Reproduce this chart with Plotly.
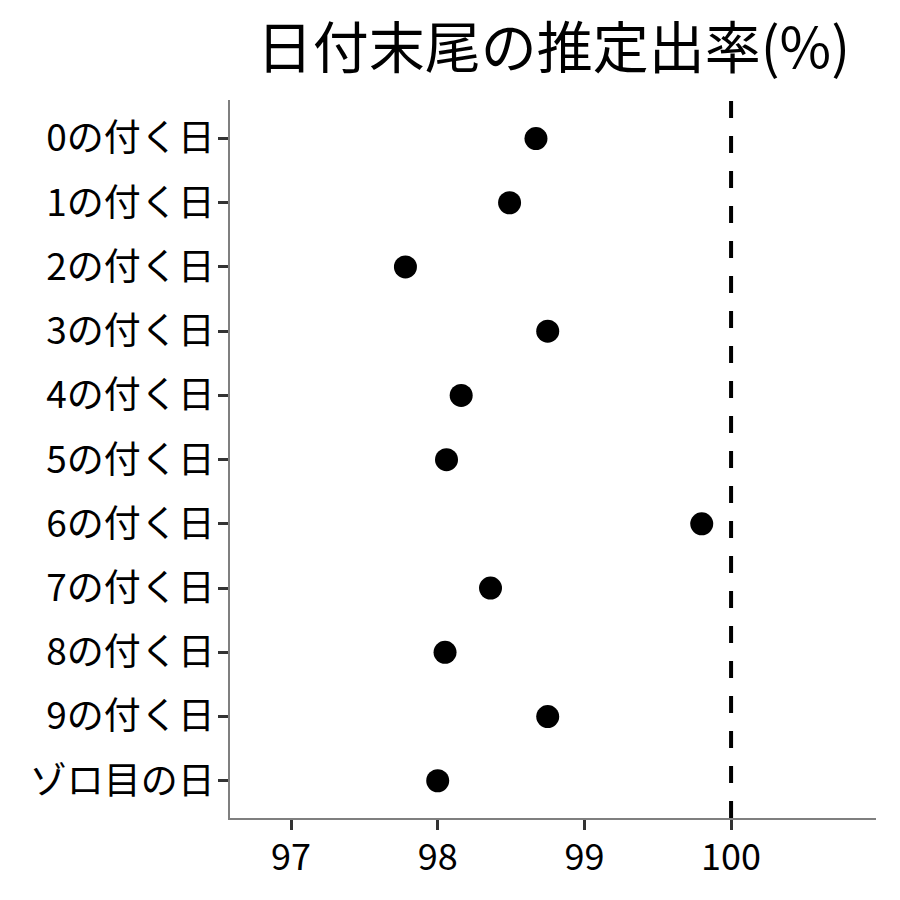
import plotly.graph_objects as go

# category labels (top to bottom) and estimated rates (%)
categories = ["0の付く日", "1の付く日", "2の付く日", "3の付く日", "4の付く日",
              "5の付く日", "6の付く日", "7の付く日", "8の付く日", "9の付く日", "ゾロ目の日"]
rates = [98.67, 98.49, 97.78, 98.75, 98.16, 98.06, 99.80, 98.36, 98.05, 98.75, 98.00]
x_ticks = [97, 98, 99, 100]
ref_line = 100

font_family = "Noto Sans CJK JP"

fig = go.Figure()

fig.add_trace(go.Scatter(
    x=rates,
    y=categories,
    mode="markers",
    marker=dict(color="black", size=23),
    showlegend=False,
))

# dashed reference line at 100%
fig.add_shape(
    type="line", xref="x", yref="paper",
    x0=ref_line, x1=ref_line, y0=0, y1=1,
    line=dict(color="black", width=4, dash="17px,18px"),
)

fig.update_layout(
    width=900,
    height=900,
    margin=dict(l=222, r=32, t=92, b=90),
    paper_bgcolor="white",
    plot_bgcolor="white",
    font=dict(family=font_family, color="black", size=36),
    title=dict(
        text="日付末尾の推定出率(%)",
        x=0.606, xanchor="center",
        y=0.955, yanchor="middle",
        font=dict(family=font_family, size=56, color="black"),
    ),
    xaxis=dict(
        range=[96.584, 100.988],
        tickvals=x_ticks,
        ticktext=[str(v) for v in x_ticks],
        showgrid=False,
        zeroline=False,
        showline=True,
        linecolor="#7f7f7f",
        linewidth=1.5,
        ticks="outside",
        ticklen=10,
        tickwidth=3,
        tickcolor="#333333",
        ticklabelstandoff=-3,
        tickfont=dict(size=36, color="black"),
    ),
    yaxis=dict(
        categoryorder="array",
        categoryarray=categories,
        range=[10.58, -0.6],
        showgrid=False,
        zeroline=False,
        showline=True,
        linecolor="#7f7f7f",
        linewidth=1.5,
        ticks="outside",
        ticklen=10,
        tickwidth=3,
        tickcolor="#333333",
        ticklabelstandoff=-4,
        tickfont=dict(size=37, color="black"),
    ),
)

fig.write_html("out.html")
